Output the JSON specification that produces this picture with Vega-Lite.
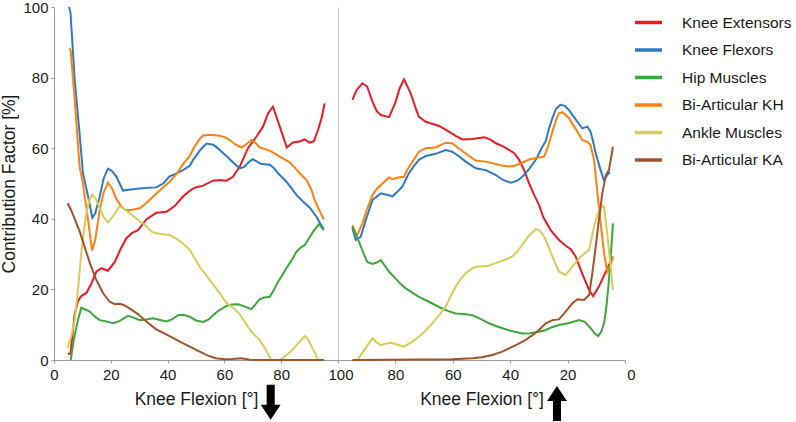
{
  "$schema": "https://vega.github.io/schema/vega-lite/v6.json",
  "padding": 0,
  "spacing": 0,
  "bounds": "flush",
  "datasets": {
    "left": [
      {"muscle":"Knee Extensors","x":4.9,"y":1.8},{"muscle":"Knee Extensors","x":5.8,"y":1.8},{"muscle":"Knee Extensors","x":7.3,"y":13.2},{"muscle":"Knee Extensors","x":8.5,"y":16.8},{"muscle":"Knee Extensors","x":9.6,"y":18.1},{"muscle":"Knee Extensors","x":11.4,"y":19},{"muscle":"Knee Extensors","x":13.2,"y":21.7},{"muscle":"Knee Extensors","x":14.9,"y":25},{"muscle":"Knee Extensors","x":16.7,"y":26},{"muscle":"Knee Extensors","x":19,"y":25.3},{"muscle":"Knee Extensors","x":21.4,"y":27.8},{"muscle":"Knee Extensors","x":23.5,"y":31.5},{"muscle":"Knee Extensors","x":25.5,"y":34.5},{"muscle":"Knee Extensors","x":27.5,"y":36},{"muscle":"Knee Extensors","x":29.6,"y":36.8},{"muscle":"Knee Extensors","x":32.5,"y":39.8},{"muscle":"Knee Extensors","x":36,"y":41.7},{"muscle":"Knee Extensors","x":39.6,"y":42},{"muscle":"Knee Extensors","x":42.5,"y":43.6},{"muscle":"Knee Extensors","x":45.4,"y":46.3},{"muscle":"Knee Extensors","x":47.8,"y":47.9},{"muscle":"Knee Extensors","x":49.5,"y":48.8},{"muscle":"Knee Extensors","x":52.5,"y":49.4},{"muscle":"Knee Extensors","x":56,"y":50.8},{"muscle":"Knee Extensors","x":58.5,"y":51},{"muscle":"Knee Extensors","x":60.7,"y":50.8},{"muscle":"Knee Extensors","x":63,"y":51.9},{"muscle":"Knee Extensors","x":65.4,"y":54.8},{"muscle":"Knee Extensors","x":68.3,"y":60},{"muscle":"Knee Extensors","x":71.3,"y":63.3},{"muscle":"Knee Extensors","x":73.6,"y":66.1},{"muscle":"Knee Extensors","x":75.4,"y":69.9},{"muscle":"Knee Extensors","x":77.1,"y":71.8},{"muscle":"Knee Extensors","x":79.5,"y":66.1},{"muscle":"Knee Extensors","x":82,"y":60.2},{"muscle":"Knee Extensors","x":84.1,"y":61.6},{"muscle":"Knee Extensors","x":86.5,"y":61.9},{"muscle":"Knee Extensors","x":88.3,"y":62.5},{"muscle":"Knee Extensors","x":90,"y":61.6},{"muscle":"Knee Extensors","x":91.5,"y":62},{"muscle":"Knee Extensors","x":92.9,"y":65},{"muscle":"Knee Extensors","x":94.2,"y":68.5},{"muscle":"Knee Extensors","x":95.3,"y":72.7},
      {"muscle":"Knee Flexors","x":5.3,"y":100},{"muscle":"Knee Flexors","x":5.8,"y":98.5},{"muscle":"Knee Flexors","x":7.3,"y":79.3},{"muscle":"Knee Flexors","x":9,"y":64.2},{"muscle":"Knee Flexors","x":10.2,"y":52.9},{"muscle":"Knee Flexors","x":12,"y":46.3},{"muscle":"Knee Flexors","x":13.5,"y":40.3},{"muscle":"Knee Flexors","x":14.5,"y":41.5},{"muscle":"Knee Flexors","x":16.1,"y":46.3},{"muscle":"Knee Flexors","x":17.5,"y":51.5},{"muscle":"Knee Flexors","x":19,"y":54.2},{"muscle":"Knee Flexors","x":20.5,"y":53.5},{"muscle":"Knee Flexors","x":22,"y":51.9},{"muscle":"Knee Flexors","x":24.3,"y":48},{"muscle":"Knee Flexors","x":27,"y":48.3},{"muscle":"Knee Flexors","x":30.2,"y":48.6},{"muscle":"Knee Flexors","x":33,"y":48.8},{"muscle":"Knee Flexors","x":36,"y":48.9},{"muscle":"Knee Flexors","x":38.5,"y":50},{"muscle":"Knee Flexors","x":40.7,"y":52},{"muscle":"Knee Flexors","x":43,"y":52.8},{"muscle":"Knee Flexors","x":45.4,"y":53.8},{"muscle":"Knee Flexors","x":47.8,"y":55},{"muscle":"Knee Flexors","x":49,"y":56.7},{"muscle":"Knee Flexors","x":51.5,"y":59.5},{"muscle":"Knee Flexors","x":53.7,"y":61.3},{"muscle":"Knee Flexors","x":56,"y":61},{"muscle":"Knee Flexors","x":57.2,"y":60.3},{"muscle":"Knee Flexors","x":60.7,"y":57.8},{"muscle":"Knee Flexors","x":63,"y":56},{"muscle":"Knee Flexors","x":65.4,"y":54.3},{"muscle":"Knee Flexors","x":67,"y":54.7},{"muscle":"Knee Flexors","x":68.5,"y":56},{"muscle":"Knee Flexors","x":70,"y":56.9},{"muscle":"Knee Flexors","x":71.5,"y":56.2},{"muscle":"Knee Flexors","x":73,"y":55.5},{"muscle":"Knee Flexors","x":76,"y":55.3},{"muscle":"Knee Flexors","x":77.5,"y":54.3},{"muscle":"Knee Flexors","x":78.9,"y":52.9},{"muscle":"Knee Flexors","x":81.8,"y":50.5},{"muscle":"Knee Flexors","x":83,"y":49.3},{"muscle":"Knee Flexors","x":85.4,"y":46.7},{"muscle":"Knee Flexors","x":88.3,"y":44.4},{"muscle":"Knee Flexors","x":90,"y":43.2},{"muscle":"Knee Flexors","x":92.4,"y":40.6},{"muscle":"Knee Flexors","x":93.8,"y":38.6},{"muscle":"Knee Flexors","x":95,"y":37},
      {"muscle":"Bi-Articular KH","x":5.5,"y":88.3},{"muscle":"Bi-Articular KH","x":5.9,"y":87.5},{"muscle":"Bi-Articular KH","x":7.3,"y":73.7},{"muscle":"Bi-Articular KH","x":9,"y":54.8},{"muscle":"Bi-Articular KH","x":10.2,"y":50},{"muscle":"Bi-Articular KH","x":12,"y":39.7},{"muscle":"Bi-Articular KH","x":13.4,"y":31},{"muscle":"Bi-Articular KH","x":14.5,"y":34},{"muscle":"Bi-Articular KH","x":16.1,"y":42.5},{"muscle":"Bi-Articular KH","x":17.5,"y":47.5},{"muscle":"Bi-Articular KH","x":19,"y":50.2},{"muscle":"Bi-Articular KH","x":20.5,"y":48.5},{"muscle":"Bi-Articular KH","x":22,"y":45.5},{"muscle":"Bi-Articular KH","x":23.7,"y":43.5},{"muscle":"Bi-Articular KH","x":25,"y":42.5},{"muscle":"Bi-Articular KH","x":27,"y":42.5},{"muscle":"Bi-Articular KH","x":30.2,"y":43},{"muscle":"Bi-Articular KH","x":32.5,"y":44.5},{"muscle":"Bi-Articular KH","x":34.9,"y":46.3},{"muscle":"Bi-Articular KH","x":37.5,"y":48.2},{"muscle":"Bi-Articular KH","x":40.7,"y":50.5},{"muscle":"Bi-Articular KH","x":43,"y":52.5},{"muscle":"Bi-Articular KH","x":45.4,"y":55.5},{"muscle":"Bi-Articular KH","x":47.8,"y":57.8},{"muscle":"Bi-Articular KH","x":49.5,"y":60.5},{"muscle":"Bi-Articular KH","x":51,"y":62.3},{"muscle":"Bi-Articular KH","x":52.5,"y":63.6},{"muscle":"Bi-Articular KH","x":55,"y":63.8},{"muscle":"Bi-Articular KH","x":58.4,"y":63.5},{"muscle":"Bi-Articular KH","x":60.5,"y":63},{"muscle":"Bi-Articular KH","x":61.9,"y":62.3},{"muscle":"Bi-Articular KH","x":64,"y":61},{"muscle":"Bi-Articular KH","x":66,"y":60.2},{"muscle":"Bi-Articular KH","x":67.5,"y":61},{"muscle":"Bi-Articular KH","x":69.5,"y":62.3},{"muscle":"Bi-Articular KH","x":71,"y":61.5},{"muscle":"Bi-Articular KH","x":72.4,"y":60.2},{"muscle":"Bi-Articular KH","x":74,"y":59.8},{"muscle":"Bi-Articular KH","x":76,"y":59.3},{"muscle":"Bi-Articular KH","x":79.5,"y":57.6},{"muscle":"Bi-Articular KH","x":81,"y":56.9},{"muscle":"Bi-Articular KH","x":83,"y":56},{"muscle":"Bi-Articular KH","x":84.8,"y":54.5},{"muscle":"Bi-Articular KH","x":86.5,"y":52.9},{"muscle":"Bi-Articular KH","x":88.9,"y":51},{"muscle":"Bi-Articular KH","x":90.5,"y":48.5},{"muscle":"Bi-Articular KH","x":91.8,"y":45.3},{"muscle":"Bi-Articular KH","x":93.5,"y":42.3},{"muscle":"Bi-Articular KH","x":95,"y":39.8},
      {"muscle":"Hip Muscles","x":5.9,"y":0},{"muscle":"Hip Muscles","x":7,"y":6},{"muscle":"Hip Muscles","x":8.5,"y":11.5},{"muscle":"Hip Muscles","x":9.6,"y":14.8},{"muscle":"Hip Muscles","x":11,"y":14.3},{"muscle":"Hip Muscles","x":12.6,"y":13.7},{"muscle":"Hip Muscles","x":14.5,"y":12.2},{"muscle":"Hip Muscles","x":16.1,"y":11.3},{"muscle":"Hip Muscles","x":18.5,"y":10.9},{"muscle":"Hip Muscles","x":20.8,"y":10.4},{"muscle":"Hip Muscles","x":23,"y":11},{"muscle":"Hip Muscles","x":26,"y":12.5},{"muscle":"Hip Muscles","x":28,"y":12},{"muscle":"Hip Muscles","x":30.2,"y":11.3},{"muscle":"Hip Muscles","x":32.5,"y":11.5},{"muscle":"Hip Muscles","x":34.9,"y":11.8},{"muscle":"Hip Muscles","x":37,"y":11.4},{"muscle":"Hip Muscles","x":39.6,"y":10.9},{"muscle":"Hip Muscles","x":41.5,"y":11.5},{"muscle":"Hip Muscles","x":43.7,"y":12.7},{"muscle":"Hip Muscles","x":45.5,"y":12.8},{"muscle":"Hip Muscles","x":47.8,"y":12.3},{"muscle":"Hip Muscles","x":50,"y":11.2},{"muscle":"Hip Muscles","x":52.5,"y":10.8},{"muscle":"Hip Muscles","x":54.5,"y":11.5},{"muscle":"Hip Muscles","x":56,"y":12.7},{"muscle":"Hip Muscles","x":58,"y":14},{"muscle":"Hip Muscles","x":60.7,"y":15.3},{"muscle":"Hip Muscles","x":62.5,"y":15.7},{"muscle":"Hip Muscles","x":64.8,"y":15.8},{"muscle":"Hip Muscles","x":67,"y":15.2},{"muscle":"Hip Muscles","x":69.5,"y":14.4},{"muscle":"Hip Muscles","x":71,"y":15.8},{"muscle":"Hip Muscles","x":72.4,"y":17.2},{"muscle":"Hip Muscles","x":74,"y":17.7},{"muscle":"Hip Muscles","x":76,"y":17.9},{"muscle":"Hip Muscles","x":77.5,"y":20},{"muscle":"Hip Muscles","x":78.9,"y":22.2},{"muscle":"Hip Muscles","x":80.5,"y":24.2},{"muscle":"Hip Muscles","x":81.8,"y":26},{"muscle":"Hip Muscles","x":83.5,"y":28},{"muscle":"Hip Muscles","x":85.4,"y":30.7},{"muscle":"Hip Muscles","x":86.8,"y":31.8},{"muscle":"Hip Muscles","x":88.3,"y":32.6},{"muscle":"Hip Muscles","x":89.8,"y":34.5},{"muscle":"Hip Muscles","x":91.2,"y":36.3},{"muscle":"Hip Muscles","x":93.3,"y":38.5},{"muscle":"Hip Muscles","x":95,"y":36.8},
      {"muscle":"Ankle Muscles","x":4.7,"y":3.3},{"muscle":"Ankle Muscles","x":6,"y":6.5},{"muscle":"Ankle Muscles","x":7.3,"y":11.3},{"muscle":"Ankle Muscles","x":8.5,"y":20.5},{"muscle":"Ankle Muscles","x":9.6,"y":30.2},{"muscle":"Ankle Muscles","x":10.5,"y":36.5},{"muscle":"Ankle Muscles","x":11.4,"y":41.5},{"muscle":"Ankle Muscles","x":12.5,"y":45.5},{"muscle":"Ankle Muscles","x":13.5,"y":46.9},{"muscle":"Ankle Muscles","x":14.8,"y":45.5},{"muscle":"Ankle Muscles","x":16.1,"y":43},{"muscle":"Ankle Muscles","x":17.5,"y":40.5},{"muscle":"Ankle Muscles","x":19,"y":39},{"muscle":"Ankle Muscles","x":21,"y":41},{"muscle":"Ankle Muscles","x":23.1,"y":43.6},{"muscle":"Ankle Muscles","x":26,"y":42},{"muscle":"Ankle Muscles","x":29,"y":40.1},{"muscle":"Ankle Muscles","x":32.5,"y":37.8},{"muscle":"Ankle Muscles","x":34.5,"y":36.3},{"muscle":"Ankle Muscles","x":36,"y":35.9},{"muscle":"Ankle Muscles","x":38.5,"y":35.6},{"muscle":"Ankle Muscles","x":40.7,"y":35.4},{"muscle":"Ankle Muscles","x":43,"y":34.4},{"muscle":"Ankle Muscles","x":45.4,"y":33},{"muscle":"Ankle Muscles","x":47.8,"y":31.2},{"muscle":"Ankle Muscles","x":49.5,"y":28.8},{"muscle":"Ankle Muscles","x":51.3,"y":26.4},{"muscle":"Ankle Muscles","x":54.8,"y":22.7},{"muscle":"Ankle Muscles","x":58.4,"y":18.9},{"muscle":"Ankle Muscles","x":60.7,"y":16.2},{"muscle":"Ankle Muscles","x":63,"y":14.8},{"muscle":"Ankle Muscles","x":65.4,"y":13},{"muscle":"Ankle Muscles","x":67,"y":11},{"muscle":"Ankle Muscles","x":69.5,"y":8},{"muscle":"Ankle Muscles","x":72.4,"y":5.7},{"muscle":"Ankle Muscles","x":74.5,"y":3},{"muscle":"Ankle Muscles","x":76.5,"y":0},{"muscle":"Ankle Muscles","x":79.5,"y":0},{"muscle":"Ankle Muscles","x":82,"y":1.5},{"muscle":"Ankle Muscles","x":84.1,"y":3},{"muscle":"Ankle Muscles","x":86.5,"y":5.2},{"muscle":"Ankle Muscles","x":88.3,"y":6.8},{"muscle":"Ankle Muscles","x":89.5,"y":5.8},{"muscle":"Ankle Muscles","x":90.6,"y":4},{"muscle":"Ankle Muscles","x":92,"y":1.8},{"muscle":"Ankle Muscles","x":93,"y":0},
      {"muscle":"Bi-Articular KA","x":4.8,"y":44.4},{"muscle":"Bi-Articular KA","x":6,"y":42.5},{"muscle":"Bi-Articular KA","x":7.3,"y":40},{"muscle":"Bi-Articular KA","x":9,"y":36.5},{"muscle":"Bi-Articular KA","x":10.8,"y":32},{"muscle":"Bi-Articular KA","x":12.6,"y":27.5},{"muscle":"Bi-Articular KA","x":14.9,"y":22.7},{"muscle":"Bi-Articular KA","x":17.3,"y":18.9},{"muscle":"Bi-Articular KA","x":19.6,"y":16.5},{"muscle":"Bi-Articular KA","x":21.5,"y":15.8},{"muscle":"Bi-Articular KA","x":23.1,"y":15.9},{"muscle":"Bi-Articular KA","x":24.5,"y":15.6},{"muscle":"Bi-Articular KA","x":26.6,"y":14.6},{"muscle":"Bi-Articular KA","x":29.6,"y":13},{"muscle":"Bi-Articular KA","x":32.5,"y":10.9},{"muscle":"Bi-Articular KA","x":36,"y":8.7},{"muscle":"Bi-Articular KA","x":40.2,"y":7},{"muscle":"Bi-Articular KA","x":44.3,"y":5.2},{"muscle":"Bi-Articular KA","x":47.8,"y":3.8},{"muscle":"Bi-Articular KA","x":51.3,"y":2.4},{"muscle":"Bi-Articular KA","x":54,"y":1.3},{"muscle":"Bi-Articular KA","x":57,"y":0.5},{"muscle":"Bi-Articular KA","x":60,"y":0.2},{"muscle":"Bi-Articular KA","x":63,"y":0.3},{"muscle":"Bi-Articular KA","x":66,"y":0.5},{"muscle":"Bi-Articular KA","x":69,"y":0.1},{"muscle":"Bi-Articular KA","x":72,"y":0},{"muscle":"Bi-Articular KA","x":95,"y":0}
    ],
    "right": [
      {"muscle":"Knee Extensors","x":95,"y":73.7},{"muscle":"Knee Extensors","x":93.5,"y":76.5},{"muscle":"Knee Extensors","x":91.5,"y":78.4},{"muscle":"Knee Extensors","x":89.8,"y":77.4},{"muscle":"Knee Extensors","x":88,"y":73.2},{"muscle":"Knee Extensors","x":86.5,"y":70.5},{"muscle":"Knee Extensors","x":85.1,"y":69.4},{"muscle":"Knee Extensors","x":82.2,"y":68.8},{"muscle":"Knee Extensors","x":80,"y":73},{"muscle":"Knee Extensors","x":78.5,"y":77},{"muscle":"Knee Extensors","x":77,"y":79.5},{"muscle":"Knee Extensors","x":74.7,"y":75.6},{"muscle":"Knee Extensors","x":73,"y":71.5},{"muscle":"Knee Extensors","x":71.8,"y":68.9},{"muscle":"Knee Extensors","x":69.4,"y":67.5},{"muscle":"Knee Extensors","x":64.8,"y":66.3},{"muscle":"Knee Extensors","x":61.3,"y":64.7},{"muscle":"Knee Extensors","x":59,"y":63.5},{"muscle":"Knee Extensors","x":56.7,"y":62.5},{"muscle":"Knee Extensors","x":53.2,"y":62.6},{"muscle":"Knee Extensors","x":49.1,"y":63.1},{"muscle":"Knee Extensors","x":47,"y":62.5},{"muscle":"Knee Extensors","x":45,"y":61.4},{"muscle":"Knee Extensors","x":42.5,"y":60.5},{"muscle":"Knee Extensors","x":40.4,"y":59.5},{"muscle":"Knee Extensors","x":38.5,"y":58.5},{"muscle":"Knee Extensors","x":36.9,"y":56.7},{"muscle":"Knee Extensors","x":35,"y":53.5},{"muscle":"Knee Extensors","x":33.4,"y":50},{"muscle":"Knee Extensors","x":31.5,"y":46.5},{"muscle":"Knee Extensors","x":30,"y":44},{"muscle":"Knee Extensors","x":28.5,"y":40.5},{"muscle":"Knee Extensors","x":25.9,"y":36.8},{"muscle":"Knee Extensors","x":23,"y":34},{"muscle":"Knee Extensors","x":20.5,"y":32.3},{"muscle":"Knee Extensors","x":18.9,"y":31.4},{"muscle":"Knee Extensors","x":17.2,"y":29.3},{"muscle":"Knee Extensors","x":14.9,"y":24.5},{"muscle":"Knee Extensors","x":12.5,"y":19.8},{"muscle":"Knee Extensors","x":11.1,"y":18.1},{"muscle":"Knee Extensors","x":9.1,"y":20.8},{"muscle":"Knee Extensors","x":6.7,"y":25},{"muscle":"Knee Extensors","x":5.6,"y":26.9},{"muscle":"Knee Extensors","x":4.2,"y":29.3},
      {"muscle":"Knee Flexors","x":95,"y":37.3},{"muscle":"Knee Flexors","x":93.8,"y":34},{"muscle":"Knee Flexors","x":92.1,"y":34.9},{"muscle":"Knee Flexors","x":90.3,"y":39.7},{"muscle":"Knee Flexors","x":88,"y":45.3},{"muscle":"Knee Flexors","x":85.1,"y":47.2},{"muscle":"Knee Flexors","x":82.2,"y":46.7},{"muscle":"Knee Flexors","x":81.1,"y":46.3},{"muscle":"Knee Flexors","x":79.5,"y":47.5},{"muscle":"Knee Flexors","x":77.6,"y":49.1},{"muscle":"Knee Flexors","x":75.3,"y":52.9},{"muscle":"Knee Flexors","x":73.5,"y":55},{"muscle":"Knee Flexors","x":71.8,"y":56.7},{"muscle":"Knee Flexors","x":69.4,"y":57.8},{"muscle":"Knee Flexors","x":66,"y":58.4},{"muscle":"Knee Flexors","x":62.5,"y":59.5},{"muscle":"Knee Flexors","x":60.2,"y":59},{"muscle":"Knee Flexors","x":58,"y":57.8},{"muscle":"Knee Flexors","x":55.5,"y":56.2},{"muscle":"Knee Flexors","x":52,"y":54.3},{"muscle":"Knee Flexors","x":48.5,"y":53.8},{"muscle":"Knee Flexors","x":45,"y":52.4},{"muscle":"Knee Flexors","x":42.5,"y":51},{"muscle":"Knee Flexors","x":39.8,"y":50.2},{"muscle":"Knee Flexors","x":37.5,"y":50.8},{"muscle":"Knee Flexors","x":35.8,"y":51.9},{"muscle":"Knee Flexors","x":33.5,"y":54},{"muscle":"Knee Flexors","x":31.1,"y":56.7},{"muscle":"Knee Flexors","x":28.8,"y":60.4},{"muscle":"Knee Flexors","x":27.6,"y":62},{"muscle":"Knee Flexors","x":26.5,"y":65.5},{"muscle":"Knee Flexors","x":25.3,"y":68.5},{"muscle":"Knee Flexors","x":24,"y":71.2},{"muscle":"Knee Flexors","x":22.5,"y":72.3},{"muscle":"Knee Flexors","x":21,"y":72},{"muscle":"Knee Flexors","x":19.5,"y":70.8},{"muscle":"Knee Flexors","x":17.5,"y":68.5},{"muscle":"Knee Flexors","x":16.6,"y":67.5},{"muscle":"Knee Flexors","x":14.9,"y":65.6},{"muscle":"Knee Flexors","x":13.1,"y":66.1},{"muscle":"Knee Flexors","x":12,"y":64.7},{"muscle":"Knee Flexors","x":11,"y":61.5},{"muscle":"Knee Flexors","x":10.2,"y":58.5},{"muscle":"Knee Flexors","x":8.5,"y":53.8},{"muscle":"Knee Flexors","x":7.3,"y":50.8},{"muscle":"Knee Flexors","x":6.2,"y":52.4},{"muscle":"Knee Flexors","x":5.2,"y":53.3},
      {"muscle":"Bi-Articular KH","x":95,"y":38.2},{"muscle":"Bi-Articular KH","x":94,"y":36.2},{"muscle":"Bi-Articular KH","x":93.3,"y":35.4},{"muscle":"Bi-Articular KH","x":91.5,"y":38.7},{"muscle":"Bi-Articular KH","x":90,"y":42.5},{"muscle":"Bi-Articular KH","x":88,"y":46.7},{"muscle":"Bi-Articular KH","x":86.5,"y":48.5},{"muscle":"Bi-Articular KH","x":85.1,"y":49.6},{"muscle":"Bi-Articular KH","x":83.5,"y":50.8},{"muscle":"Bi-Articular KH","x":82.2,"y":51.7},{"muscle":"Bi-Articular KH","x":81.1,"y":51.2},{"muscle":"Bi-Articular KH","x":79.3,"y":51.7},{"muscle":"Bi-Articular KH","x":77,"y":51.9},{"muscle":"Bi-Articular KH","x":75.9,"y":53.8},{"muscle":"Bi-Articular KH","x":73.8,"y":56.5},{"muscle":"Bi-Articular KH","x":71.8,"y":59},{"muscle":"Bi-Articular KH","x":69.4,"y":60},{"muscle":"Bi-Articular KH","x":66,"y":60.2},{"muscle":"Bi-Articular KH","x":64,"y":61},{"muscle":"Bi-Articular KH","x":62.5,"y":61.5},{"muscle":"Bi-Articular KH","x":60.2,"y":61.4},{"muscle":"Bi-Articular KH","x":58,"y":60},{"muscle":"Bi-Articular KH","x":55.5,"y":58.5},{"muscle":"Bi-Articular KH","x":52,"y":56.5},{"muscle":"Bi-Articular KH","x":48.5,"y":56.2},{"muscle":"Bi-Articular KH","x":45,"y":55.5},{"muscle":"Bi-Articular KH","x":42.5,"y":55},{"muscle":"Bi-Articular KH","x":40.4,"y":54.8},{"muscle":"Bi-Articular KH","x":38.5,"y":55},{"muscle":"Bi-Articular KH","x":36.3,"y":55.7},{"muscle":"Bi-Articular KH","x":33.4,"y":56.8},{"muscle":"Bi-Articular KH","x":30.5,"y":57.3},{"muscle":"Bi-Articular KH","x":28.2,"y":57.6},{"muscle":"Bi-Articular KH","x":27,"y":60},{"muscle":"Bi-Articular KH","x":25.3,"y":64.7},{"muscle":"Bi-Articular KH","x":24,"y":68},{"muscle":"Bi-Articular KH","x":23,"y":69.9},{"muscle":"Bi-Articular KH","x":21.8,"y":70.2},{"muscle":"Bi-Articular KH","x":19.5,"y":68.5},{"muscle":"Bi-Articular KH","x":16.6,"y":64.7},{"muscle":"Bi-Articular KH","x":14.9,"y":62.3},{"muscle":"Bi-Articular KH","x":13.1,"y":61.8},{"muscle":"Bi-Articular KH","x":12,"y":60.9},{"muscle":"Bi-Articular KH","x":10.8,"y":56.7},{"muscle":"Bi-Articular KH","x":9.1,"y":43.4},{"muscle":"Bi-Articular KH","x":7.3,"y":30.2},{"muscle":"Bi-Articular KH","x":6.2,"y":25},{"muscle":"Bi-Articular KH","x":5,"y":27},{"muscle":"Bi-Articular KH","x":4.2,"y":29.3},
      {"muscle":"Hip Muscles","x":95,"y":37.8},{"muscle":"Hip Muscles","x":94,"y":36},{"muscle":"Hip Muscles","x":92.7,"y":33.5},{"muscle":"Hip Muscles","x":91,"y":30},{"muscle":"Hip Muscles","x":89.8,"y":27.8},{"muscle":"Hip Muscles","x":88,"y":27.2},{"muscle":"Hip Muscles","x":86.5,"y":27.6},{"muscle":"Hip Muscles","x":85.1,"y":28.3},{"muscle":"Hip Muscles","x":83.5,"y":26.5},{"muscle":"Hip Muscles","x":82.2,"y":25},{"muscle":"Hip Muscles","x":80.5,"y":23.6},{"muscle":"Hip Muscles","x":78.5,"y":21.8},{"muscle":"Hip Muscles","x":76.4,"y":20.3},{"muscle":"Hip Muscles","x":74,"y":19},{"muscle":"Hip Muscles","x":71.8,"y":17.9},{"muscle":"Hip Muscles","x":68.3,"y":16.5},{"muscle":"Hip Muscles","x":65.5,"y":15.3},{"muscle":"Hip Muscles","x":63.7,"y":14.6},{"muscle":"Hip Muscles","x":61,"y":13.7},{"muscle":"Hip Muscles","x":59,"y":13.2},{"muscle":"Hip Muscles","x":56,"y":13},{"muscle":"Hip Muscles","x":53.2,"y":12.7},{"muscle":"Hip Muscles","x":50,"y":11.5},{"muscle":"Hip Muscles","x":47.4,"y":10.4},{"muscle":"Hip Muscles","x":44.5,"y":9.5},{"muscle":"Hip Muscles","x":41.6,"y":8.7},{"muscle":"Hip Muscles","x":38.5,"y":8},{"muscle":"Hip Muscles","x":35.8,"y":7.5},{"muscle":"Hip Muscles","x":33,"y":7.6},{"muscle":"Hip Muscles","x":30,"y":8},{"muscle":"Hip Muscles","x":27.6,"y":8.5},{"muscle":"Hip Muscles","x":25.5,"y":9.3},{"muscle":"Hip Muscles","x":23,"y":9.9},{"muscle":"Hip Muscles","x":19.5,"y":10.5},{"muscle":"Hip Muscles","x":16,"y":11.3},{"muscle":"Hip Muscles","x":14,"y":10.8},{"muscle":"Hip Muscles","x":12,"y":9},{"muscle":"Hip Muscles","x":10.5,"y":7.5},{"muscle":"Hip Muscles","x":9.3,"y":6.8},{"muscle":"Hip Muscles","x":8.3,"y":8},{"muscle":"Hip Muscles","x":7.3,"y":10.4},{"muscle":"Hip Muscles","x":6.5,"y":15},{"muscle":"Hip Muscles","x":5.8,"y":20.8},{"muscle":"Hip Muscles","x":5,"y":29},{"muscle":"Hip Muscles","x":4.2,"y":38.7},
      {"muscle":"Ankle Muscles","x":93.3,"y":0},{"muscle":"Ankle Muscles","x":92,"y":1.5},{"muscle":"Ankle Muscles","x":90.9,"y":2.8},{"muscle":"Ankle Muscles","x":89,"y":5},{"muscle":"Ankle Muscles","x":88,"y":6.1},{"muscle":"Ankle Muscles","x":86.5,"y":5},{"muscle":"Ankle Muscles","x":85.1,"y":4.2},{"muscle":"Ankle Muscles","x":83.5,"y":4.6},{"muscle":"Ankle Muscles","x":81.6,"y":4.9},{"muscle":"Ankle Muscles","x":79.5,"y":4.4},{"muscle":"Ankle Muscles","x":77,"y":3.8},{"muscle":"Ankle Muscles","x":74.5,"y":5},{"muscle":"Ankle Muscles","x":71.8,"y":6.6},{"muscle":"Ankle Muscles","x":69.5,"y":8.3},{"muscle":"Ankle Muscles","x":67.1,"y":10.4},{"muscle":"Ankle Muscles","x":64.5,"y":13},{"muscle":"Ankle Muscles","x":62.5,"y":15.1},{"muscle":"Ankle Muscles","x":60.8,"y":18},{"muscle":"Ankle Muscles","x":59,"y":20.8},{"muscle":"Ankle Muscles","x":57.2,"y":23},{"muscle":"Ankle Muscles","x":55.5,"y":24.6},{"muscle":"Ankle Muscles","x":53.5,"y":25.8},{"muscle":"Ankle Muscles","x":52,"y":26.4},{"muscle":"Ankle Muscles","x":48,"y":26.6},{"muscle":"Ankle Muscles","x":45.5,"y":27.3},{"muscle":"Ankle Muscles","x":43.9,"y":27.8},{"muscle":"Ankle Muscles","x":41.5,"y":28.5},{"muscle":"Ankle Muscles","x":39.3,"y":29.3},{"muscle":"Ankle Muscles","x":37.5,"y":30.8},{"muscle":"Ankle Muscles","x":35.8,"y":32.6},{"muscle":"Ankle Muscles","x":33.5,"y":35.2},{"muscle":"Ankle Muscles","x":31.1,"y":37.1},{"muscle":"Ankle Muscles","x":30,"y":36.8},{"muscle":"Ankle Muscles","x":28.8,"y":35.8},{"muscle":"Ankle Muscles","x":27.6,"y":34},{"muscle":"Ankle Muscles","x":25.3,"y":29.3},{"muscle":"Ankle Muscles","x":23,"y":25},{"muscle":"Ankle Muscles","x":20.7,"y":24.1},{"muscle":"Ankle Muscles","x":18.4,"y":26.4},{"muscle":"Ankle Muscles","x":15.4,"y":29.3},{"muscle":"Ankle Muscles","x":12.5,"y":31.2},{"muscle":"Ankle Muscles","x":10.8,"y":37.8},{"muscle":"Ankle Muscles","x":9.1,"y":42.5},{"muscle":"Ankle Muscles","x":7.8,"y":43.6},{"muscle":"Ankle Muscles","x":7.3,"y":43.4},{"muscle":"Ankle Muscles","x":6.2,"y":35.9},{"muscle":"Ankle Muscles","x":5,"y":26.4},{"muscle":"Ankle Muscles","x":4.2,"y":19.8},
      {"muscle":"Bi-Articular KA","x":95,"y":0},{"muscle":"Bi-Articular KA","x":60,"y":0.2},{"muscle":"Bi-Articular KA","x":53.2,"y":0.5},{"muscle":"Bi-Articular KA","x":50,"y":0.8},{"muscle":"Bi-Articular KA","x":46.2,"y":1.4},{"muscle":"Bi-Articular KA","x":43,"y":2.3},{"muscle":"Bi-Articular KA","x":40.4,"y":3.3},{"muscle":"Bi-Articular KA","x":37.5,"y":4.4},{"muscle":"Bi-Articular KA","x":34.6,"y":5.7},{"muscle":"Bi-Articular KA","x":32,"y":7.2},{"muscle":"Bi-Articular KA","x":30,"y":8.5},{"muscle":"Bi-Articular KA","x":27.6,"y":10.4},{"muscle":"Bi-Articular KA","x":25.3,"y":11.3},{"muscle":"Bi-Articular KA","x":23,"y":11.5},{"muscle":"Bi-Articular KA","x":20.7,"y":13.7},{"muscle":"Bi-Articular KA","x":18.4,"y":16},{"muscle":"Bi-Articular KA","x":16.6,"y":17.2},{"muscle":"Bi-Articular KA","x":14.3,"y":17},{"muscle":"Bi-Articular KA","x":12.5,"y":18.4},{"muscle":"Bi-Articular KA","x":11.4,"y":24.5},{"muscle":"Bi-Articular KA","x":10.2,"y":32.1},{"muscle":"Bi-Articular KA","x":9.1,"y":39.7},{"muscle":"Bi-Articular KA","x":7.9,"y":47.2},{"muscle":"Bi-Articular KA","x":6.7,"y":52.4},{"muscle":"Bi-Articular KA","x":5.6,"y":53.8},{"muscle":"Bi-Articular KA","x":4.9,"y":57},{"muscle":"Bi-Articular KA","x":4.2,"y":60.4}
    ],
    "leftArrow": [{"x": 76.3, "y": -12}],
    "rightArrow": [{"x": 23.7, "y": -12.3}]
  },
  "hconcat": [
    {
      "width": 284,
      "height": 353,
      "layer": [
        {
          "data": {"name": "left"},
          "mark": {"type": "line", "strokeWidth": 2},
          "encoding": {
            "x": {"field": "x", "type": "quantitative", "scale": {"domain": [0, 100]}, "axis": {"values": [0, 20, 40, 60, 80], "labelFlush": false, "title": "Knee Flexion [°]"}},
            "y": {"field": "y", "type": "quantitative", "scale": {"domain": [0, 100]}, "axis": {"values": [0, 20, 40, 60, 80, 100], "title": "Contribution Factor [%]"}},
            "color": {
              "field": "muscle",
              "type": "nominal",
              "scale": {
                "domain": ["Knee Extensors", "Knee Flexors", "Hip Muscles", "Bi-Articular KH", "Ankle Muscles", "Bi-Articular KA"],
                "range": ["#E81E22", "#2E7BC4", "#3CAA3A", "#FF820F", "#D9CB55", "#A5532B"]
              },
              "legend": {"title": null}
            }
          }
        },
        {
          "data": {"name": "leftArrow"},
          "mark": {"type": "point", "shape": "M -0.23 -1 L 0.23 -1 L 0.23 0.14 L 0.57 0.14 L 0 1 L -0.57 0.14 L -0.23 0.14 Z", "size": 1225, "filled": true, "color": "black", "opacity": 1, "clip": false},
          "encoding": {
            "x": {"field": "x", "type": "quantitative"},
            "y": {"field": "y", "type": "quantitative"}
          }
        }
      ]
    },
    {
      "width": 287,
      "height": 353,
      "layer": [
        {
          "data": {"name": "right"},
          "mark": {"type": "line", "strokeWidth": 2},
          "encoding": {
            "x": {"field": "x", "type": "quantitative", "scale": {"domain": [0, 100], "reverse": true}, "axis": {"values": [100, 80, 60, 40, 20, 0], "labelFlush": true, "labelFlushOffset": 10, "title": "Knee Flexion [°]"}},
            "y": {"field": "y", "type": "quantitative", "scale": {"domain": [0, 100]}, "axis": {"labels": false, "ticks": false, "title": null, "domainColor": "#c4c4c4"}},
            "color": {"field": "muscle", "type": "nominal"}
          }
        },
        {
          "data": {"name": "rightArrow"},
          "mark": {"type": "point", "shape": "M -0.23 1 L 0.23 1 L 0.23 -0.14 L 0.57 -0.14 L 0 -1 L -0.57 -0.14 L -0.23 -0.14 Z", "size": 1225, "filled": true, "color": "black", "opacity": 1, "clip": false},
          "encoding": {
            "x": {"field": "x", "type": "quantitative"},
            "y": {"field": "y", "type": "quantitative"}
          }
        }
      ]
    }
  ],
  "config": {
    "font": "Liberation Sans",
    "view": {"stroke": null},
    "axis": {
      "grid": false,
      "labelOverlap": false,
      "labelFontSize": 15,
      "labelColor": "#1a1a1a",
      "titleFontSize": 17.5,
      "titleFontWeight": "normal",
      "titleColor": "#1a1a1a",
      "domainColor": "#9a9a9a",
      "tickColor": "#9a9a9a",
      "tickSize": 3
    },
    "axisX": {"titlePadding": 8, "labelPadding": 4},
    "axisY": {"titlePadding": 4, "labelPadding": 3},
    "legend": {
      "symbolType": "stroke",
      "symbolSize": 729,
      "symbolStrokeWidth": 3.5,
      "labelFontSize": 15.5,
      "labelColor": "#1a1a1a",
      "labelOffset": 18,
      "rowPadding": 3.5,
      "offset": -2,
      "padding": 0
    }
  }
}
